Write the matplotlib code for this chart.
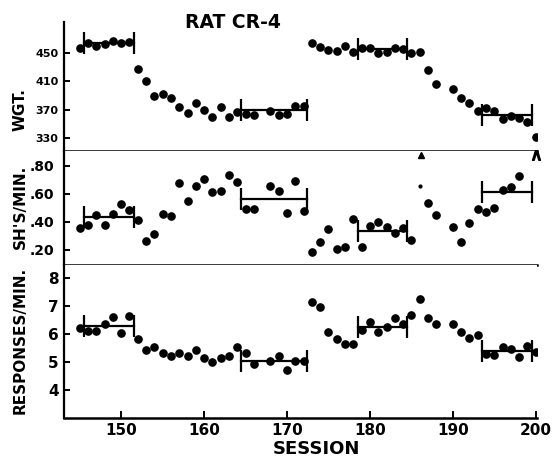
import numpy as np
import matplotlib
matplotlib.use("Agg")
import matplotlib.pyplot as plt

nan = np.nan
sessions = list(range(145, 201))

weight = [457, 464, 460, 463, 467, 465, 466, 428, 410, 390,
          392, 386, 374, 366, 379, 370, 359, 374, 360, 367,
          364, 362, nan, 368, 363, 364, 375, 375, 465, 459,
          454, 453, 460, 451, 457, 457, 450, 451, 457, 456,
          450, 451, 426, 407, nan, 399, 386, 380, 368, 373,
          368, 357, 361, 358, 353, 332]

shocks = [0.355, 0.379, 0.448, 0.376, 0.457, 0.529, 0.486, 0.417, 0.267, 0.312,
          0.455, 0.443, 0.676, 0.550, 0.657, 0.707, 0.617, 0.624, 0.736, 0.688,
          0.490, 0.490, nan, 0.657, 0.624, 0.467, 0.693, 0.481, 0.188, 0.259,
          0.350, 0.205, 0.224, 0.421, 0.224, 0.371, 0.402, 0.362, 0.319, 0.355,
          0.271, nan, 0.533, 0.450, nan, 0.367, 0.260, 0.390, 0.490, 0.474,
          0.498, 0.629, 0.652, 0.731, nan, nan]

responses = [6.22, 6.11, 6.11, 6.36, 6.62, 6.02, 6.64, 5.83, 5.43, 5.52,
             5.33, 5.23, 5.31, 5.21, 5.43, 5.13, 5.01, 5.13, 5.21, 5.52,
             5.33, 4.92, nan, 5.05, 5.23, 4.71, 5.05, 5.05, 7.13, 6.95,
             6.06, 5.82, 5.63, 5.64, 6.14, 6.44, 6.06, 6.26, 6.56, 6.35,
             6.68, 7.24, 6.56, 6.36, nan, 6.35, 6.08, 5.85, 5.96, 5.27,
             5.25, 5.55, 5.46, 5.19, 5.58, 5.37]

faint_session = [186]
faint_shock = [0.657]

bracket_start = [145.5, 164.5, 178.5, 193.5]
bracket_end = [151.6, 172.4, 184.5, 199.5]
weight_means = [463.7, 369.0, 455.2, 362.4]
shock_means = [0.438, 0.562, 0.338, 0.612]
response_means = [6.30, 5.05, 6.26, 5.39]

marker_sessions = [186.2, 200]

weight_ticks = [330, 370, 410, 450]
shock_ticks = [0.20, 0.40, 0.60, 0.80]
shock_ticklabels = [".20", ".40", ".60", ".80"]
response_ticks = [4, 5, 6, 7, 8]
session_ticks = [150, 160, 170, 180, 190, 200]

plt.rcParams['font.family'] = ['DejaVu Sans']
W, H = 557, 468
fig = plt.figure(figsize=(W / 100, H / 100), dpi=100)

left = 64 / W
width = (537 - 64) / W
def ax_at(top_px, bot_px):
    return fig.add_axes([left, 1 - bot_px / H, width, (bot_px - top_px) / H])

ax1 = ax_at(22, 151)
ax2 = ax_at(151, 264.5)
ax3 = ax_at(264.5, 418)

xlim = (143.1, 200.15)
for ax in (ax1, ax2, ax3):
    ax.set_xlim(*xlim)
    ax.spines['top'].set_visible(False)
    ax.spines['right'].set_visible(False)
    ax.spines['left'].set_linewidth(1.6)
    ax.spines['bottom'].set_linewidth(1.8)
    ax.tick_params(axis='y', direction='in', length=4, width=1.4, pad=4)
    ax.tick_params(axis='x', direction='in', length=5, width=1.4)

dot = dict(ls='none', marker='o', ms=5.2, color='black', mec='black')
brk = dict(ls='-', lw=1.6, color='black', marker='|', ms=16, mew=1.6)

# top: weight
ax1.plot(sessions, weight, **dot)
for s, e, m in zip(bracket_start, bracket_end, weight_means):
    ax1.plot([s, e], [m, m], **brk)
ax1.set_ylim(311.6, 494)
ax1.set_yticks(weight_ticks)
ax1.set_yticklabels([str(t) for t in weight_ticks], fontsize=8, fontweight='bold')
ax1.set_xticks([])

# middle: shocks
ax2.plot(sessions, shocks, **dot)
ax2.plot(faint_session, faint_shock, ls='none', marker='o', ms=2, color='black')
for s, e, m in zip(bracket_start, bracket_end, shock_means):
    ax2.plot([s, e], [m, m], **brk)
ax2.set_ylim(0.096, 0.907)
ax2.set_yticks(shock_ticks)
ax2.set_yticklabels(shock_ticklabels, fontsize=10, fontweight='bold')
ax2.tick_params(axis='y', pad=7)
ax2.set_xticks([])
ax2.plot([marker_sessions[0]], [0.878], ls='none', marker='^', ms=5,
         color='black', clip_on=False)
ax2.plot([marker_sessions[1]], [0.878], ls='none', marker=r'$\wedge$', ms=7,
         color='black', clip_on=False)

# bottom: responses
ax3.plot(sessions, responses, **dot)
for s, e, m in zip(bracket_start, bracket_end, response_means):
    ax3.plot([s, e], [m, m], **brk)
ax3.set_ylim(3.0, 8.48)
ax3.set_yticks(response_ticks)
ax3.set_yticklabels([str(t) for t in response_ticks], fontsize=11, fontweight='bold')
ax3.set_xticks(session_ticks)
ax3.set_xticklabels([str(t) for t in session_ticks], fontsize=11, fontweight='bold')
ax3.set_xlabel("SESSION", fontsize=13, fontweight='bold')
ax3.xaxis.set_label_coords((316 - 64) / (537 - 64), -0.145)

fig.text(233 / W, 1 - 22 / H, "RAT CR-4", fontsize=13.5, fontweight='bold',
         ha='center', va='center')
fig.text(20 / W, 1 - 110 / H, "WGT.", rotation=90, fontsize=11,
         fontweight='bold', ha='center', va='center')
fig.text(20 / W, 1 - 207 / H, "SH'S/MIN.", rotation=90, fontsize=11,
         fontweight='bold', ha='center', va='center')
fig.text(20 / W, 1 - 340 / H, "RESPONSES/MIN.", rotation=90, fontsize=11,
         fontweight='bold', ha='center', va='center')

fig.savefig("out.png", dpi=100)
